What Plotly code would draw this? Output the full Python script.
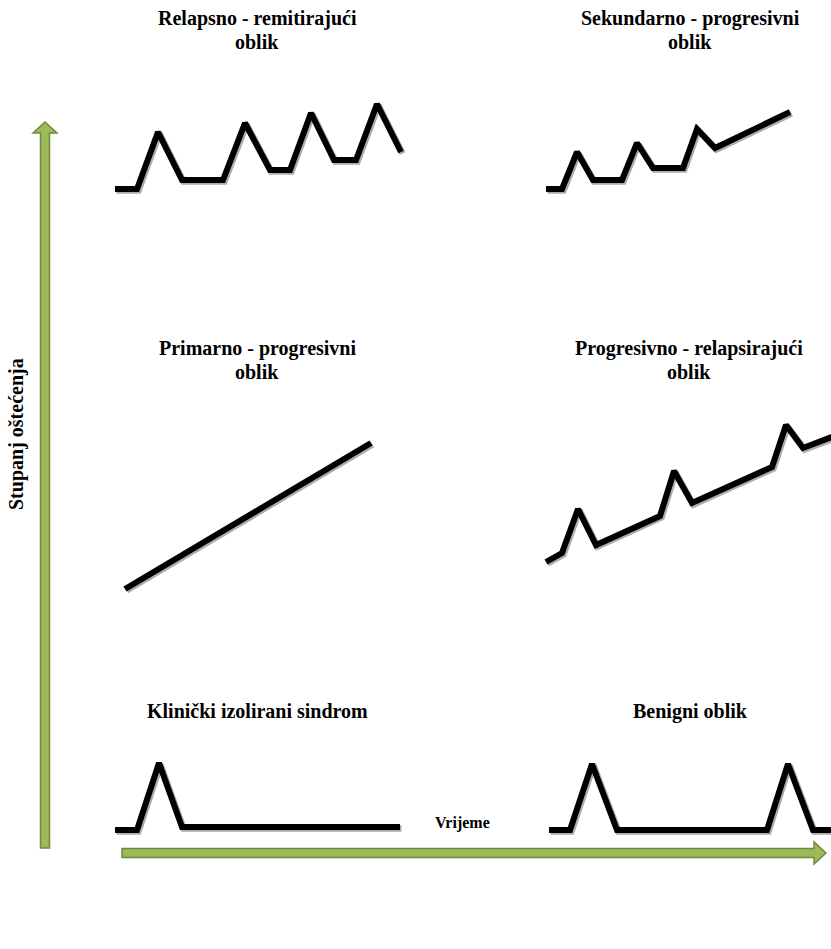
import plotly.graph_objects as go

W, H = 831, 949

# ---- data: time (x) and degree of disability (y) for each course, per panel ----
rr_time = [15, 37, 58, 82, 123, 145, 170, 190, 211, 234, 256, 277, 301]
rr_level = [11, 11, 68, 20, 20, 77, 30, 30, 87, 40, 40, 96, 48]

sp_time = [16, 32, 47, 63, 92, 107, 123, 153, 167, 185, 260]
sp_level = [11, 11, 48, 20, 20, 57, 32, 32, 71, 52, 88]

pp_time = [25, 271]
pp_level = [11, 157]

pr_time = [16, 32, 48, 66, 130, 144, 162, 242, 256, 273, 315]
pr_level = [38, 47, 91, 55, 84, 129, 97, 133, 175, 152, 168]

cis_time = [15, 37, 59, 82, 300]
cis_level = [10, 10, 77, 13, 13]

ben_time = [19, 40, 62, 87, 237, 258, 283, 315]
ben_level = [10, 10, 76, 10, 10, 76, 10, 10]

titles_l1 = ["Relapsno - remitirajući", "Sekundarno - progresivni",
             "Primarno - progresivni", "Progresivno - relapsirajući",
             "Klinički izolirani sindrom", "Benigni oblik"]
titles_l2 = ["oblik", "oblik", "oblik", "oblik", "", ""]
y_label = "Stupanj oštećenja"
x_label = "Vrijeme"

series = [(rr_time, rr_level), (sp_time, sp_level), (pp_time, pp_level),
          (pr_time, pr_level), (cis_time, cis_level), (ben_time, ben_level)]

# panel boxes in pixels: left, top, width, height
boxes = [(100, 90, 320, 110), (530, 90, 301, 110),
         (100, 410, 320, 190), (530, 410, 301, 190),
         (100, 740, 320, 100), (530, 740, 301, 100)]
title_centers = [(257, 19, 42), (690, 19, 42), (257, 349, 372), (689, 349, 372),
                 (257, 711, None), (690, 711, None)]

def px(x):
    return x / W

def py(y):
    return 1 - y / H

fig = go.Figure()
layout_axes = {}
for i, ((t, lv), (l, tp, w, h)) in enumerate(zip(series, boxes)):
    n = i + 1
    xa = "x" if n == 1 else f"x{n}"
    ya = "y" if n == 1 else f"y{n}"
    # soft shadow under the stroke
    fig.add_trace(go.Scatter(x=[v + 1.5 for v in t], y=[v - 1.5 for v in lv], mode="lines",
                             line=dict(color="rgba(90,90,90,0.5)", width=6.5),
                             xaxis=xa, yaxis=ya, hoverinfo="skip", showlegend=False))
    fig.add_trace(go.Scatter(x=t, y=lv, mode="lines",
                             line=dict(color="black", width=6),
                             xaxis=xa, yaxis=ya, showlegend=False))
    xk = "xaxis" if n == 1 else f"xaxis{n}"
    yk = "yaxis" if n == 1 else f"yaxis{n}"
    layout_axes[xk] = dict(domain=[px(l), px(l + w)], range=[0, w], visible=False,
                           fixedrange=True, anchor=ya)
    layout_axes[yk] = dict(domain=[py(tp + h), py(tp)], range=[0, h], visible=False,
                           fixedrange=True, anchor=xa)

fig.update_layout(**layout_axes)

font_b = dict(family="Liberation Serif", size=20, color="black", weight="bold")
ann = []
for (cx, y1, y2), t1, t2 in zip(title_centers, titles_l1, titles_l2):
    ann.append(dict(x=px(cx), y=py(y1), xref="paper", yref="paper", text=t1,
                    showarrow=False, font=font_b, xanchor="center", yanchor="middle"))
    if t2:
        ann.append(dict(x=px(cx), y=py(y2), xref="paper", yref="paper", text=t2,
                        showarrow=False, font=font_b, xanchor="center", yanchor="middle"))

ann.append(dict(x=px(17), y=py(434), xref="paper", yref="paper", text=y_label,
                textangle=-90, showarrow=False, xanchor="center", yanchor="middle",
                font=dict(family="Liberation Serif", size=20, color="black", weight="bold")))
ann.append(dict(x=px(462), y=py(823), xref="paper", yref="paper", text=x_label,
                showarrow=False, xanchor="center", yanchor="middle",
                font=dict(family="Liberation Serif", size=16, color="black", weight="bold")))

# arrows (decoration)
green = "#9bbb59"
dark = "#71893f"
vx, vtop, vbot = 45, 122, 848
vpath = (f"M {px(vx-4.5)} {py(vbot)} L {px(vx-4.5)} {py(vtop+11)} L {px(vx-12)} {py(vtop+11)} "
         f"L {px(vx)} {py(vtop)} L {px(vx+12)} {py(vtop+11)} L {px(vx+4.5)} {py(vtop+11)} "
         f"L {px(vx+4.5)} {py(vbot)} Z")
hy, hl, hr = 853, 122, 826
hpath = (f"M {px(hl)} {py(hy-4.5)} L {px(hr-12)} {py(hy-4.5)} L {px(hr-12)} {py(hy-11)} "
         f"L {px(hr)} {py(hy)} L {px(hr-12)} {py(hy+11)} L {px(hr-12)} {py(hy+4.5)} "
         f"L {px(hl)} {py(hy+4.5)} Z")
shapes = [dict(type="path", path=p, xref="paper", yref="paper", fillcolor=green,
               line=dict(color=dark, width=1.5)) for p in (vpath, hpath)]

fig.update_layout(width=W, height=H, margin=dict(l=0, r=0, t=0, b=0),
                  paper_bgcolor="white", plot_bgcolor="rgba(0,0,0,0)",
                  annotations=ann, shapes=shapes, showlegend=False)

fig.write_html("out.html", config={"displayModeBar": False},
               post_script="document.body.style.margin='0px';")
